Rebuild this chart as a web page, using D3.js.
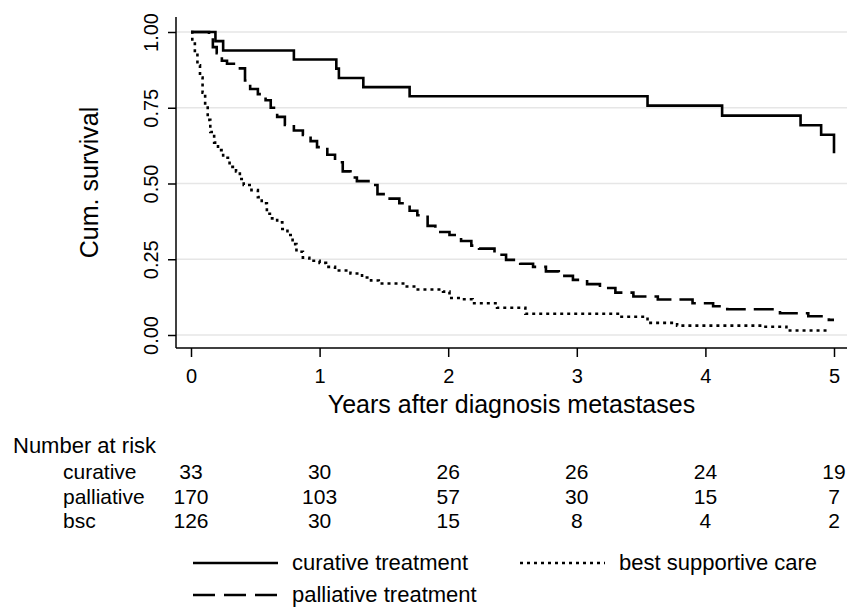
<!DOCTYPE html>
<html>
<head>
<meta charset="utf-8">
<script src="https://cdn.jsdelivr.net/npm/d3@7"></script>
<style>
  body { margin: 0; background: #fff; }
  text { font-family: "Liberation Sans", Arial, sans-serif; fill: #000; }
</style>
</head>
<body>
<svg id="chart" width="861" height="608"></svg>
<script>
// tick values
const yearTicks = [0, 1, 2, 3, 4, 5];
const survTicks = [0, 0.25, 0.5, 0.75, 1];

// Kaplan-Meier steps (time in years, cum. survival)
const curativeT = [0, 0.19, 0.25, 0.80, 1.13, 1.15, 1.34, 1.70, 3.55, 4.13, 4.74, 4.90, 5.0];
const curativeS = [1, 0.970, 0.939, 0.909, 0.879, 0.848, 0.818, 0.788, 0.757, 0.724, 0.692, 0.661, 0.60];

const palliativeT = [0, 0.14, 0.17, 0.20, 0.24, 0.28, 0.35, 0.42, 0.46, 0.52, 0.58, 0.62, 0.67, 0.73, 0.80, 0.87, 0.93, 0.98,
  1.06, 1.12, 1.18, 1.24, 1.29, 1.38, 1.45, 1.52, 1.62, 1.70, 1.76, 1.84, 1.90, 2.01, 2.10, 2.18, 2.24, 2.36, 2.45,
  2.56, 2.66, 2.76, 2.86, 2.97, 3.08, 3.18, 3.30, 3.44, 3.63, 3.90, 4.06, 4.17, 4.58, 4.80, 4.96, 5.0];
const palliativeS = [1, 0.99, 0.95, 0.93, 0.905, 0.895, 0.88, 0.84, 0.812, 0.795, 0.775, 0.75, 0.72, 0.693, 0.675, 0.66, 0.64, 0.62,
  0.595, 0.57, 0.54, 0.52, 0.508, 0.495, 0.465, 0.45, 0.435, 0.41, 0.395, 0.36, 0.34, 0.33, 0.31, 0.295, 0.285, 0.265, 0.248,
  0.235, 0.225, 0.21, 0.195, 0.182, 0.168, 0.155, 0.14, 0.127, 0.117, 0.105, 0.095, 0.085, 0.072, 0.062, 0.05, 0.05];

const bscT = [0, 0.01, 0.03, 0.05, 0.07, 0.09, 0.11, 0.13, 0.15, 0.18, 0.21, 0.25, 0.30, 0.35, 0.38, 0.41, 0.47, 0.52, 0.55,
  0.59, 0.63, 0.67, 0.71, 0.75, 0.79, 0.82, 0.87, 0.92, 1.00, 1.05, 1.12, 1.24, 1.33, 1.40, 1.46, 1.65, 1.75, 1.96, 2.01,
  2.10, 2.19, 2.38, 2.60, 3.33, 3.55, 3.78, 4.45, 4.63, 4.95];
const bscS = [1, 0.97, 0.93, 0.89, 0.85, 0.80, 0.755, 0.71, 0.67, 0.635, 0.61, 0.585, 0.555, 0.54, 0.515, 0.495, 0.478, 0.455, 0.435,
  0.40, 0.385, 0.372, 0.35, 0.33, 0.30, 0.275, 0.255, 0.245, 0.238, 0.225, 0.213, 0.203, 0.19, 0.18, 0.17, 0.16, 0.15, 0.143, 0.122,
  0.118, 0.105, 0.09, 0.07, 0.06, 0.04, 0.031, 0.027, 0.015, 0.015];

// number at risk table
const riskGroups = ["curative", "palliative", "bsc"];
const riskCurative = [33, 30, 26, 26, 24, 19];
const riskPalliative = [170, 103, 57, 30, 15, 7];
const riskBsc = [126, 30, 15, 8, 4, 2];

const legendLabels = ["curative treatment", "palliative treatment", "best supportive care"];

const svg = d3.select('#chart');

// plot region (axis lines run a bit beyond the data range, like Stata)
const axisLeftX = 176, axisBottomY = 348, axisTopY = 17, axisRightX = 847;

const x = d3.scaleLinear().domain([0, 5]).range([191, 834]);
const y = d3.scaleLinear().domain([0, 1]).range([335, 32]);

// gridlines
svg.append('g')
  .selectAll('line')
  .data(survTicks)
  .join('line')
  .attr('x1', axisLeftX).attr('x2', axisRightX)
  .attr('y1', d => y(d)).attr('y2', d => y(d))
  .attr('stroke', '#e6e6e6')
  .attr('stroke-width', 1.5);

// y axis
const yAxis = svg.append('g')
  .attr('transform', `translate(${axisLeftX},0)`)
  .call(d3.axisLeft(y).tickValues(survTicks).tickSize(8).tickFormat(d3.format('.2f')));
yAxis.select('.domain').remove();
yAxis.selectAll('.tick line').attr('stroke', '#000').attr('stroke-width', 1.5);
yAxis.selectAll('.tick text')
  .attr('x', null).attr('dy', null)
  .attr('text-anchor', 'middle')
  .attr('transform', 'translate(-18,0) rotate(-90)')
  .style('font-size', '20px')
  .attr('fill', '#000');

// x axis
const xAxis = svg.append('g')
  .attr('transform', `translate(0,${axisBottomY})`)
  .call(d3.axisBottom(x).tickValues(yearTicks).tickSize(9).tickFormat(d3.format('d')));
xAxis.select('.domain').remove();
xAxis.selectAll('.tick line').attr('stroke', '#000').attr('stroke-width', 1.5);
xAxis.selectAll('.tick text')
  .attr('y', 35).attr('dy', null)
  .style('font-size', '20px')
  .attr('fill', '#000');

// axis lines
svg.append('line')
  .attr('x1', axisLeftX).attr('x2', axisLeftX)
  .attr('y1', axisTopY).attr('y2', axisBottomY)
  .attr('stroke', '#000').attr('stroke-width', 1.5);
svg.append('line')
  .attr('x1', axisLeftX).attr('x2', axisRightX)
  .attr('y1', axisBottomY).attr('y2', axisBottomY)
  .attr('stroke', '#000').attr('stroke-width', 1.5);

// axis titles
svg.append('text')
  .attr('transform', `translate(98,${(axisTopY + axisBottomY) / 2}) rotate(-90)`)
  .attr('text-anchor', 'middle')
  .style('font-size', '25px')
  .text('Cum. survival');
svg.append('text')
  .attr('x', (axisLeftX + axisRightX) / 2)
  .attr('y', 413)
  .attr('text-anchor', 'middle')
  .style('font-size', '25px')
  .text('Years after diagnosis metastases');

// curves
const styles = [
  { dash: null },
  { dash: '20,8' },
  { dash: '3,4' }
];
const series = [
  curativeT.map((t, i) => [t, curativeS[i]]),
  palliativeT.map((t, i) => [t, palliativeS[i]]),
  bscT.map((t, i) => [t, bscS[i]])
];

const line = d3.line()
  .x(d => x(d[0]))
  .y(d => y(d[1]))
  .curve(d3.curveStepAfter);

svg.append('g')
  .selectAll('path')
  .data(series)
  .join('path')
  .attr('d', line)
  .attr('fill', 'none')
  .attr('stroke', '#000')
  .attr('stroke-width', 2.6)
  .attr('stroke-dasharray', (d, i) => styles[i].dash);

// number at risk
svg.append('text')
  .attr('x', 13).attr('y', 453)
  .style('font-size', '22px')
  .text('Number at risk');

const riskRows = [riskCurative, riskPalliative, riskBsc];
const rowY = [479, 504, 528];

riskGroups.forEach((g, i) => {
  svg.append('text')
    .attr('x', 63).attr('y', rowY[i])
    .style('font-size', '21px')
    .text(g);
  svg.append('g')
    .selectAll('text')
    .data(riskRows[i])
    .join('text')
    .attr('x', (d, j) => x(yearTicks[j]))
    .attr('y', rowY[i])
    .attr('text-anchor', 'middle')
    .style('font-size', '21px')
    .text(d => d);
});

// legend
const legendPos = [
  { x: 193, y: 563 },
  { x: 193, y: 595 },
  { x: 520, y: 563 }
];
legendLabels.forEach((lab, i) => {
  const p = legendPos[i];
  svg.append('line')
    .attr('x1', p.x).attr('x2', p.x + 85)
    .attr('y1', p.y).attr('y2', p.y)
    .attr('stroke', '#000')
    .attr('stroke-width', 2.6)
    .attr('stroke-dasharray', i === 1 ? '22,9' : styles[i].dash);
  svg.append('text')
    .attr('x', p.x + 99)
    .attr('y', p.y + 7)
    .style('font-size', '22px')
    .text(lab);
});
</script>
</body>
</html>
